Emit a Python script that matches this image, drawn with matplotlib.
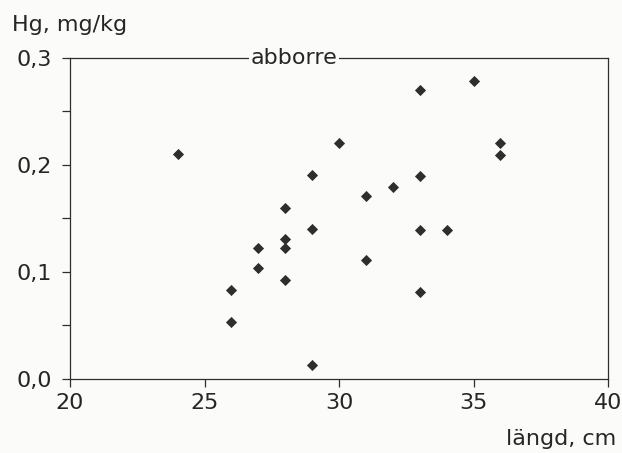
import matplotlib
matplotlib.use("Agg")
import matplotlib.pyplot as plt
import numpy as np

# abborre: längd (cm) och kvicksilverhalt (mg/kg)
langd = [24, 30, 33, 35, 36, 36, 29, 33, 32, 31,
         28, 29, 33, 34, 28, 27, 28, 27, 31, 28,
         26, 33, 26, 29]
hg = [0.210, 0.220, 0.270, 0.278, 0.220, 0.209, 0.190, 0.189, 0.179, 0.171,
      0.160, 0.140, 0.139, 0.139, 0.131, 0.122, 0.122, 0.104, 0.111, 0.092,
      0.083, 0.081, 0.053, 0.013]

x_ticks = [20, 25, 30, 35, 40]
y_ticks = [0.0, 0.1, 0.2, 0.3]
y_ticklabels = ["0,0", "0,1", "0,2", "0,3"]
y_minor = [0.05, 0.15, 0.25]

plt.rcParams['font.family'] = ['DejaVu Sans']
fg = '#2e2e2e'
txt = '#262626'
bg = '#fbfbf9'
fs = 16

fig = plt.figure(figsize=(6.22, 4.53), dpi=100, facecolor=bg)
ax = fig.add_axes([70 / 622, 1 - 379 / 453, 538 / 622, 321.5 / 453])
ax.set_facecolor(bg)

ax.plot(langd, hg, linestyle='none', marker='D', markersize=5,
        color=fg, markeredgecolor=fg, markeredgewidth=0.6, clip_on=False)

ax.set_xlim(20, 40)
ax.set_ylim(0, 0.3)
ax.set_xticks(x_ticks)
ax.set_xticklabels([str(t) for t in x_ticks])
ax.set_yticks(y_ticks)
ax.set_yticklabels(y_ticklabels)
ax.set_yticks(y_minor, minor=True)

for s in ax.spines.values():
    s.set_color(fg)
    s.set_linewidth(0.9)

ax.tick_params(axis='both', which='both', direction='out', length=6,
               width=0.9, color=fg, labelsize=fs, labelcolor=txt)
ax.tick_params(axis='y', pad=7)
ax.tick_params(axis='x', pad=4)

ax.text(28.32, 0.3, 'abborre', ha='center', va='center', fontsize=fs,
        color=txt, bbox=dict(facecolor=bg, edgecolor='none', pad=1.0))

fig.text(12 / 622, 1 - 31 / 453, 'Hg, mg/kg', ha='left', va='baseline',
         fontsize=fs, color=txt)
fig.text(616 / 622, 1 - 445 / 453, 'längd, cm', ha='right', va='baseline',
         fontsize=fs, color=txt)

fig.savefig('out.png', dpi=100, facecolor=fig.get_facecolor())
